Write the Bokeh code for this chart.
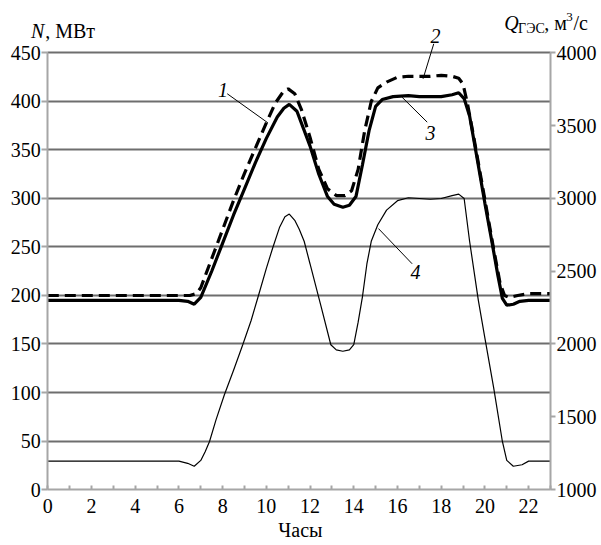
from bokeh.plotting import figure
from bokeh.models import (Range1d, LinearAxis, FixedTicker, Label, Grid)
from bokeh.embed import file_html
from bokeh.resources import INLINE

# ---------------- data ----------------
# Curve 1/3: power N, MW (solid thick)
hours_n1 = [0, 1, 2, 3, 4, 5, 6, 6.4, 6.7, 7, 7.5, 8, 8.5, 9, 9.5, 10, 10.5, 10.8,
            11.05, 11.4, 11.7, 12, 12.4, 12.8, 13.1, 13.5, 13.8, 14.1, 14.4, 14.7,
            15, 15.3, 15.8, 16.5, 17, 17.5, 18, 18.5, 18.8, 19.05, 19.3, 19.6, 20,
            20.3, 20.6, 20.8, 21, 21.3, 21.6, 22, 23]
n1 = [195, 195, 195, 195, 195, 195, 195, 194, 191, 198, 225, 254, 283, 310, 337, 362,
      384, 393, 397, 390, 372, 354, 325, 302, 294, 291, 293, 302, 335, 370,
      395, 402, 405, 406, 405, 405, 405, 407, 409, 403, 385, 347, 295,
      258, 220, 197, 190, 191, 194, 195, 195]

# Curve 2: power N, MW (dashed thick)
hours_n2 = [0, 1, 2, 3, 4, 5, 6, 6.5, 6.8, 7, 7.5, 8, 8.5, 9, 9.5, 10, 10.4, 10.8,
            11, 11.3, 11.6, 12, 12.4, 12.8, 13.2, 13.6, 13.9, 14.2, 14.5, 14.8,
            15.1, 15.5, 16, 16.5, 17, 17.5, 18, 18.5, 18.8, 19.0, 19.2, 19.5, 19.8,
            20.1, 20.4, 20.7, 20.9, 21.1, 21.5, 22, 23]
n2 = [200, 200, 200, 200, 200, 200, 200, 200, 202, 208, 238, 268, 298, 326, 352, 378,
      398, 411, 413, 408, 392, 363, 330, 310, 303, 303, 308, 330, 370, 400,
      414, 420, 425, 426, 426, 426, 427, 426, 424, 418, 398, 362, 324,
      286, 248, 212, 200, 198, 200, 202, 202]

# Curve 4: discharge Q_GES, m3/s (thin, right axis)
hours_q = [0, 1, 2, 3, 4, 5, 6, 6.4, 6.7, 7.0, 7.2, 7.4, 7.7, 8.08, 8.5, 8.92, 9.3,
           9.63, 10.0, 10.29, 10.6, 10.85, 11.05, 11.3, 11.5, 11.73, 12.0, 12.5,
           12.95, 13.2, 13.5, 13.8, 14.0, 14.2, 14.4, 14.6, 14.8, 15.1, 15.5, 16,
           16.5, 17, 17.5, 18, 18.5, 18.8, 19.05, 19.3, 19.7, 20.0, 20.4, 20.8,
           21.0, 21.3, 21.7, 22, 23]
q = [1195, 1195, 1195, 1195, 1195, 1195, 1195, 1180, 1160, 1200, 1260, 1330, 1480,
     1651, 1820, 1995, 2160, 2328, 2520, 2660, 2800, 2875, 2893, 2850, 2790, 2706,
     2550, 2260, 1995, 1960, 1950, 1960, 1995, 2150, 2328, 2550, 2706, 2820, 2920,
     2985, 3005, 3000, 2995, 3000, 3020, 3030, 3000, 2706, 2300, 2040, 1700, 1330,
     1200, 1160, 1170, 1195, 1195]

x_major_ticks = [0, 2, 4, 6, 8, 10, 12, 14, 16, 18, 20, 22]
x_minor_ticks = [1, 3, 5, 7, 9, 11, 13, 15, 17, 19, 21, 23]
n_ticks = [0, 50, 100, 150, 200, 250, 300, 350, 400, 450]
q_ticks = [1000, 1500, 2000, 2500, 3000, 3500, 4000]

FONT = "Liberation Serif"
GRID = "#6e6e6e"
AXIS = "#a6a6a6"

# ---------------- figure: frame covers the whole canvas ----------------
X0, X1 = -2.164, 25.335        # hours visible across the 601 px
Y0, Y1 = -57.73, 504.12        # N (MW) visible across the 545 px
QK = 3000.0 / 450.0
p = figure(width=601, height=545, output_backend="svg", toolbar_location=None,
           x_range=Range1d(X0, X1), y_range=Range1d(Y0, Y1),
           min_border=0, min_border_left=0, min_border_right=0,
           min_border_top=0, min_border_bottom=0)
p.outline_line_color = None
p.background_fill_color = "white"
p.border_fill_color = "white"
p.extra_y_ranges = {"q": Range1d(1000 + Y0 * QK, 1000 + Y1 * QK)}


def style_axis(ax, font_size="20px"):
    ax.axis_line_color = AXIS
    ax.axis_line_width = 2
    ax.major_tick_line_color = AXIS
    ax.major_tick_line_width = 2
    ax.major_label_text_font = FONT
    ax.major_label_text_font_size = font_size
    ax.major_label_text_color = "black"


# x axis (at N = 0)
xa = p.xaxis[0]
xa.fixed_location = 0
xa.bounds = (0, 23)
xa.ticker = FixedTicker(ticks=x_major_ticks, minor_ticks=x_minor_ticks)
xa.major_tick_in = 4
xa.major_tick_out = 0
xa.minor_tick_in = 4
xa.minor_tick_out = 0
xa.major_label_standoff = 9
xa.minor_tick_line_color = AXIS
xa.minor_tick_line_width = 2
style_axis(xa)

# left axis (at hour 0)
ya = p.yaxis[0]
ya.fixed_location = 0
ya.ticker = FixedTicker(ticks=n_ticks, minor_ticks=[])
ya.bounds = (0, 450)
ya.major_tick_in = 0
ya.major_tick_out = 6
ya.minor_tick_line_color = None
ya.major_label_standoff = 1
style_axis(ya)

# right axis (at hour 23)
ra = LinearAxis(y_range_name="q", ticker=FixedTicker(ticks=q_ticks, minor_ticks=[]),
                bounds=(1000, 4000), fixed_location=23)
ra.major_tick_in = 0
ra.major_tick_out = 5
ra.minor_tick_line_color = None
ra.major_label_standoff = 1
style_axis(ra)
p.add_layout(ra, "right")

# grid
p.xgrid.grid_line_color = None
yg = p.ygrid[0]
yg.ticker = FixedTicker(ticks=n_ticks[1:], minor_ticks=[])
yg.grid_line_color = GRID
yg.grid_line_width = 1.8
yg.bounds = (50, 450)
if "cross_bounds" in Grid.properties():
    yg.cross_bounds = (0, 23)
else:
    yg.grid_line_color = None
    gy = n_ticks[1:]
    p.segment(x0=[0] * len(gy), y0=gy, x1=[23] * len(gy), y1=gy,
              line_color=GRID, line_width=1.8)

# ---------------- curves ----------------
p.line(hours_q, q, y_range_name="q", line_color="black", line_width=1.2)
p.line(hours_n2, n2, line_color="black", line_width=3.2, line_dash="11 6")
p.line(hours_n1, n1, line_color="black", line_width=3.2)

# ---------------- annotations ----------------
curve_labels = [("1", 8.02, 412), ("2", 17.74, 468), ("3", 17.51, 368), ("4", 16.82, 224)]
leaders = [((8.21, 10.07), (408, 378)), ((17.66, 17.17), (459.5, 423.4)),
           ((17.36, 16.21), (378.7, 404.4)), ((16.67, 15.13), (232.7, 269))]
for (x0, x1), (y0, y1) in leaders:
    p.segment(x0=[x0], y0=[y0], x1=[x1], y1=[y1], line_color="black", line_width=1)
for t, x, y in curve_labels:
    p.add_layout(Label(x=x, y=y, text=t, text_font=FONT, text_font_size="20px",
                       text_font_style="italic", text_align="center",
                       text_baseline="middle", text_color="black"))


def lab(text, x, y, size="20px", style="normal", align="left", baseline="alphabetic"):
    p.add_layout(Label(x=x, y=y, text=text, text_font=FONT, text_font_size=size,
                       text_font_style=style, text_align=align,
                       text_baseline=baseline, text_color="black"))


# axis titles
lab("N", -0.77, 472.5, style="italic")
lab(", МВт", -0.12, 472.5)
lab("Q", 20.89, 480.7, style="italic")
lab("ГЭС", 21.52, 475.5, size="14px")
lab(", м", 22.72, 480.7)
lab("3", 23.72, 487.0, size="13px")
lab("/с", 24.05, 480.7)
lab("Часы", 11.56, -42, align="center", baseline="middle")

open("out.html", "w").write(file_html(p, INLINE))
